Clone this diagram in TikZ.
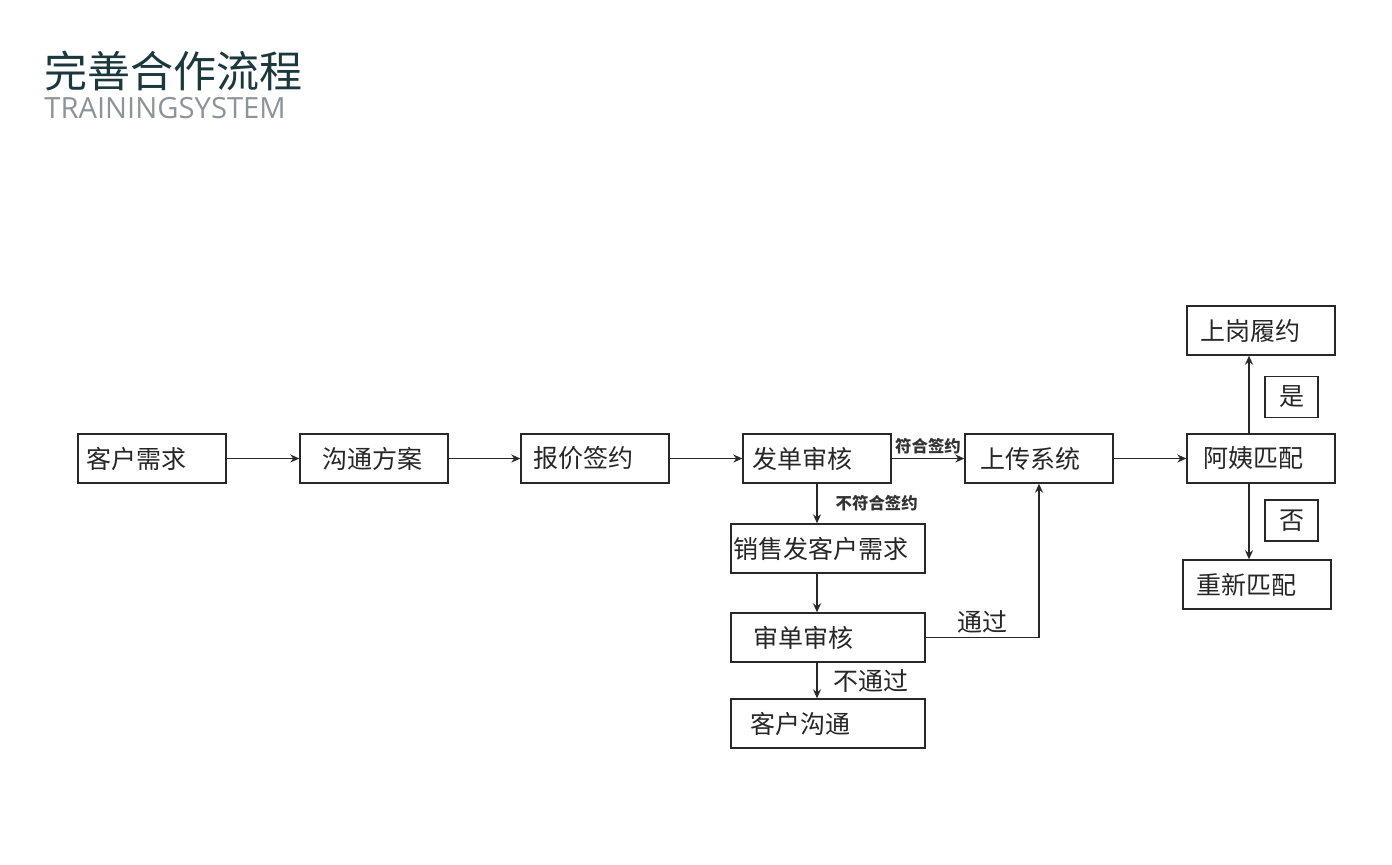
\documentclass[tikz,border=0pt]{standalone}
\usepackage{fontspec}
\setmainfont{Noto Sans CJK SC}
\newfontfamily\latinfont{Open Sans}
\usetikzlibrary{arrows.meta}
\definecolor{titleteal}{RGB}{27, 56, 60}
\definecolor{subgray}{RGB}{140, 147, 153}
\definecolor{linegray}{RGB}{40, 40, 40}

\tikzset{
  flowbox/.style={draw=linegray, line width=0.7pt, minimum width=74pt, minimum height=24.5pt,
    align=left, font=\fontsize{12.5}{15}\selectfont, text=black!85},
  widebox/.style={flowbox, minimum width=97pt},
  % left padding of the text inside a box: {box width}{padding}, in pixels
  txtpad/.code 2 args={\pgfmathsetlengthmacro\padw{(#1-2*#2)*0.5pt}%
    \pgfmathsetlengthmacro\padx{#2*0.5pt}%
    \edef\tmp{\noexpand\tikzset{inner xsep=\padx, text width=\padw}}\tmp},
  arr/.style={draw=linegray, line width=0.7pt, -{Stealth[length=4.5pt, width=4pt]}},
  tiny/.style={font=\fontsize{8.2}{10}\selectfont\bfseries, text=black!80, inner sep=1pt},
  note/.style={font=\fontsize{12.5}{15}\selectfont, text=black!85, inner sep=1pt},
  answer/.style={draw=linegray, line width=0.7pt, minimum width=26.5pt, minimum height=20.5pt,
    font=\fontsize{12.5}{15}\selectfont, text=black!85, inner sep=0pt}
}

\begin{document}
\begin{tikzpicture}[x=0.5pt, y=-0.5pt]
    \useasboundingbox (0,0) rectangle (1392,864);

    % title
    \node[anchor=west, inner sep=0pt, text=titleteal, font=\fontsize{21.5}{24}\selectfont] (title) at (44,71) {完善合作流程};
    \node[anchor=west, inner sep=0pt, text=subgray, font=\latinfont\fontsize{14.6}{17}\selectfont] (sub) at (44,108) {TRAININGSYSTEM};

    % main row
    \node[flowbox, txtpad={148}{8}] (kh) at (152,458.5) {客户需求};
    \node[flowbox, txtpad={148}{22}] (gt) at (374,458.5) {沟通方案};
    \node[flowbox, txtpad={148}{12}] (bj) at (595,458.5) {报价签约};
    \node[flowbox, txtpad={148}{9}] (fd) at (817,458.5) {发单审核};
    \node[flowbox, txtpad={148}{15}] (sc) at (1039,458.5) {上传系统};
    \node[flowbox, txtpad={148}{16}] (ay) at (1261,458.5) {阿姨匹配};

    % right branch
    \node[flowbox, txtpad={148}{13}] (sg) at (1261,330.5) {上岗履约};
    \node[flowbox, txtpad={148}{13}] (cx) at (1257,584.5) {重新匹配};
    \node[answer] (yes) at (1291.5,397) {是};
    \node[answer] (no) at (1291.5,520.5) {否};
    \coordinate (vline) at (1249,0);

    % lower branch
    \node[widebox, txtpad={194}{2}] (ss) at (828,548.5) {销售发客户需求};
    \node[widebox, txtpad={194}{22}] (sd) at (828,637.5) {审单审核};
    \node[widebox, txtpad={194}{19}] (kg) at (828,723.5) {客户沟通};

    % connectors
    \draw[arr] (kh) -- (gt);
    \draw[arr] (gt) -- (bj);
    \draw[arr] (bj) -- (fd);
    \draw[arr] (fd) -- node[tiny, above=1pt] {符合签约} (sc);
    \draw[arr] (fd.south) -- node[tiny, right=8pt] {不符合签约} (fd.south |- ss.north);
    \draw[arr] (fd.south |- ss.south) -- (fd.south |- sd.north);
    \draw[arr] (fd.south |- sd.south) -- node[note, right=7pt] {不通过} (fd.south |- kg.north);
    \draw[arr] (sd.east) -- node[note, above=1pt] {通过} (sc.south |- sd.east) -- (sc.south);
    \draw[arr] (sc) -- (ay);
    \draw[arr] (ay.north -| vline) -- (sg.south -| vline);
    \draw[arr] (ay.south -| vline) -- (cx.north -| vline);
\end{tikzpicture}
\end{document}
